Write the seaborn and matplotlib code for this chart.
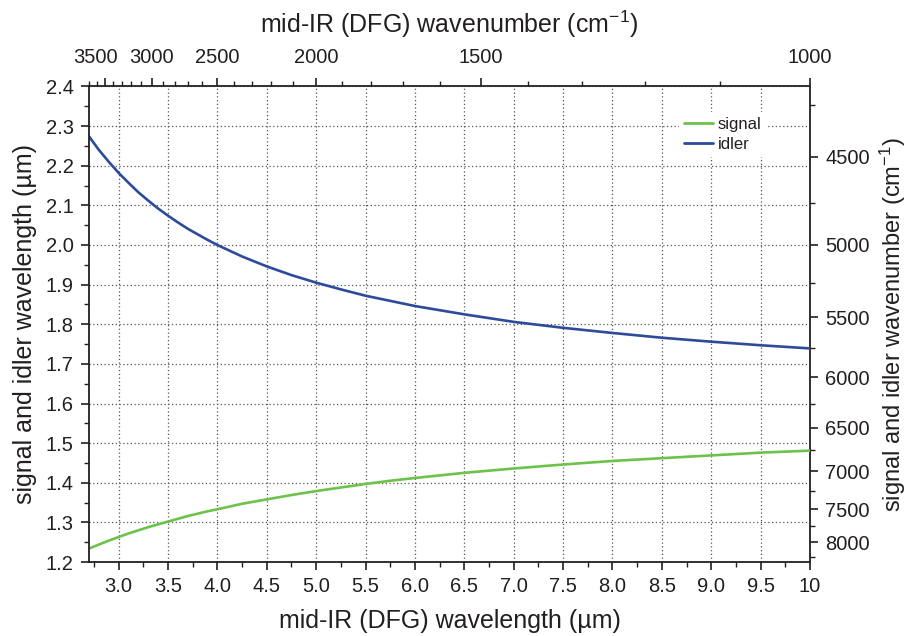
import numpy as np
import pandas as pd
import matplotlib
matplotlib.use("Agg")
import matplotlib.pyplot as plt
import seaborn as sns
from matplotlib.ticker import FixedLocator, MultipleLocator, FuncFormatter
from matplotlib.transforms import ScaledTranslation

# ---- data ----
mid_ir_um = [2.7, 2.8, 2.9, 3.0, 3.1, 3.2, 3.3, 3.4, 3.5, 3.6, 3.7, 3.8, 3.9,
             4.0, 4.25, 4.5, 4.75, 5.0, 5.25, 5.5, 5.75, 6.0, 6.5, 7.0, 7.5,
             8.0, 8.5, 9.0, 9.5, 10.0]
signal_um = [1.234, 1.244, 1.254, 1.263, 1.272, 1.280, 1.288, 1.295, 1.302,
             1.309, 1.316, 1.322, 1.328, 1.333, 1.347, 1.358, 1.369, 1.379,
             1.388, 1.397, 1.405, 1.412, 1.425, 1.436, 1.446, 1.455, 1.462,
             1.469, 1.476, 1.481]
idler_um = [2.274, 2.240, 2.210, 2.182, 2.157, 2.133, 2.112, 2.092, 2.074,
            2.057, 2.041, 2.027, 2.013, 2.000, 1.971, 1.946, 1.924, 1.905,
            1.888, 1.872, 1.859, 1.846, 1.825, 1.806, 1.791, 1.778, 1.766,
            1.756, 1.747, 1.739]
series_names = ["signal", "idler"]
series_colors = ["#6cc24a", "#2e4a9b"]
top_major = [3500, 3000, 2500, 2000, 1500, 1000]
right_major = [4500, 5000, 5500, 6000, 6500, 7000, 7500, 8000]

df = pd.DataFrame({
    "x": mid_ir_um * 2,
    "y": signal_um + idler_um,
    "series": ["signal"] * len(mid_ir_um) + ["idler"] * len(mid_ir_um),
})

sns.set_theme(style="ticks")
txt = "#231f20"
plt.rcParams.update({
    "font.family": ["Liberation Sans", "DejaVu Sans"],
    "mathtext.fontset": "custom",
    "mathtext.rm": "Liberation Sans",
    "mathtext.it": "Liberation Sans:italic",
    "mathtext.bf": "Liberation Sans:bold",
    "text.color": txt,
    "axes.labelcolor": txt,
    "xtick.color": txt,
    "ytick.color": txt,
    "axes.edgecolor": txt,
})

fig = plt.figure(figsize=(9.13, 6.36), dpi=100)
L, R, B, T = 89 / 913, 810 / 913, 1 - 562 / 636, 1 - 86.5 / 636
ax = fig.add_axes([L, B, R - L, T - B])

sns.lineplot(data=df, x="x", y="y", hue="series", hue_order=series_names,
             palette=series_colors, linewidth=1.9, ax=ax, legend=True)

ax.set_xlim(2.7, 10)
ax.set_ylim(1.2, 2.4)
ax.xaxis.set_major_locator(FixedLocator(np.arange(3.0, 10.01, 0.5)))
ax.xaxis.set_minor_locator(FixedLocator(np.arange(2.75, 10.0, 0.5)))
ax.xaxis.set_major_formatter(FuncFormatter(lambda v, p: "10" if abs(v - 10) < 1e-6 else f"{v:.1f}"))
ax.yaxis.set_major_locator(MultipleLocator(0.1))
ax.yaxis.set_minor_locator(MultipleLocator(0.05))
ax.yaxis.set_major_formatter(FuncFormatter(lambda v, p: f"{v:.1f}"))

ax.grid(True, which="major", color="#555555", linestyle=(0, (1, 2)), linewidth=0.9)
ax.spines["top"].set_visible(False)
ax.spines["right"].set_visible(False)
for s in ("left", "bottom"):
    ax.spines[s].set_linewidth(1.3)

FS_TICK = 14.5
FS_LAB = 18
ax.tick_params(which="major", length=6, width=1.2, direction="out", labelsize=FS_TICK, pad=5)
ax.tick_params(which="minor", length=3.5, width=1.0, direction="out")

ax.set_xlabel("mid-IR (DFG) wavelength (µm)", fontsize=FS_LAB, labelpad=9)
ax.set_ylabel("signal and idler wavelength (µm)", fontsize=FS_LAB, labelpad=6)

inv = (lambda v: 1e4 / np.asarray(v, dtype=float), lambda v: 1e4 / np.asarray(v, dtype=float))

top = ax.secondary_xaxis("top", functions=inv)
top.xaxis.set_major_locator(FixedLocator(top_major))
top.xaxis.set_minor_locator(FixedLocator(np.arange(1000, 3701, 100)))
top.xaxis.set_major_formatter(FuncFormatter(lambda v, p: f"{v:.0f}"))
top.tick_params(which="major", length=6, width=1.2, direction="out", labelsize=FS_TICK, pad=8)
top.tick_params(which="minor", length=3.5, width=1.0, direction="out")
top.set_xlabel("mid-IR (DFG) wavenumber (cm$^{-1}$)", fontsize=FS_LAB, labelpad=11)
top.spines["top"].set_linewidth(1.3)

right = ax.secondary_yaxis("right", functions=inv)
right.yaxis.set_major_locator(FixedLocator(right_major))
right.yaxis.set_minor_locator(FixedLocator(np.arange(4250, 8300, 250)))
right.yaxis.set_major_formatter(FuncFormatter(lambda v, p: f"{v:.0f}"))
right.tick_params(which="major", length=6, width=1.2, direction="out", labelsize=FS_TICK, pad=5)
right.tick_params(which="minor", length=3.5, width=1.0, direction="out")
right.set_ylabel("signal and idler wavenumber (cm$^{-1}$)", fontsize=17, labelpad=6)
right.spines["right"].set_linewidth(1.3)

leg = ax.legend(loc="upper left", bbox_to_anchor=(0.818, 0.946), borderaxespad=0,
                frameon=True, fontsize=12, handlelength=1.75, handletextpad=0.3,
                labelspacing=0.26, borderpad=0.3)
leg.get_frame().set_facecolor("white")
leg.get_frame().set_edgecolor("none")
leg.get_frame().set_alpha(1.0)
for line in leg.get_lines():
    line.set_linewidth(2.0)

# the reference nudges the crowded 3500 label a little to the left
fig.canvas.draw()
shift = ScaledTranslation(-0.09, 0, fig.dpi_scale_trans)
for lbl in top.xaxis.get_ticklabels():
    if lbl.get_text() == "3500":
        lbl.set_transform(lbl.get_transform() + shift)

fig.savefig("out.png", dpi=100)
